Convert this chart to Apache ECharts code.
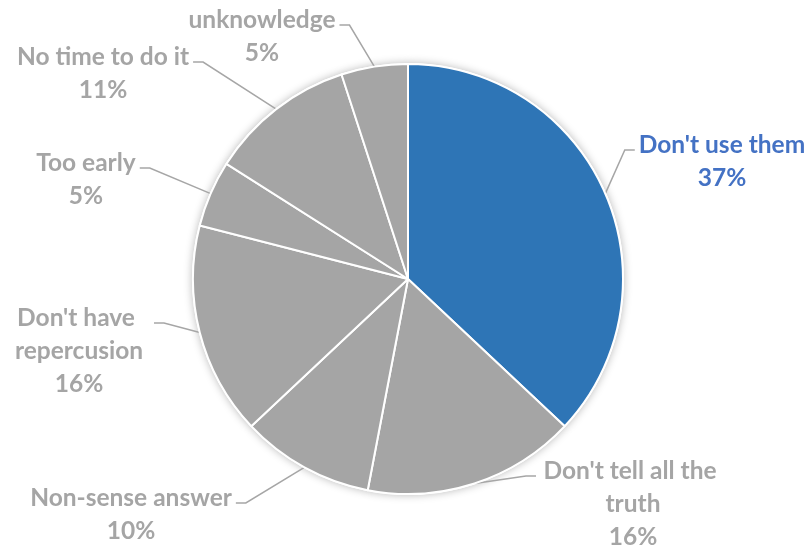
<!DOCTYPE html>
<html>
<head>
<meta charset="utf-8">
<style>
  html, body { margin: 0; padding: 0; background: #ffffff; }
  #chart { width: 808px; height: 549px; }
</style>
<script src="https://cdn.jsdelivr.net/npm/echarts@6/dist/echarts.min.js"></script>
</head>
<body>
<div id="chart"></div>
<script>
// Reasons given, clockwise from 12 o'clock
const categories = [
  "Don't use them",
  "Don't tell all the truth",
  "Non-sense answer",
  "Don't have repercusion",
  "Too early",
  "No time to do it",
  "unknowledge"
];
const shares = [37, 16, 10, 16, 5, 11, 5];

// Label placement: [centre x, top y, side of the pie]
const labelSpots = [
  [722, 129, 'right'],
  [633, 455, 'right'],
  [131, 482, 'left'],
  [79, 302, 'left'],
  [86, 147, 'left'],
  [103, 41, 'left'],
  [262, 4, 'left']
];
// Wrap widths for the longer names (0 = no wrap)
const wrapWidths = [0, 186, 0, 142, 0, 0, 0];

const GREY = '#a5a5a5';
const BLUE = '#2e75b6';
const LABEL_GREY = '#a5a5a5';
const LABEL_BLUE = '#4472c4';
const CENTER = [408, 279];
const RADIUS = 215;

const pieData = categories.map(function (name, i) {
  const highlight = i === 0;
  const label = {
    color: highlight ? LABEL_BLUE : LABEL_GREY
  };
  if (wrapWidths[i]) {
    label.width = wrapWidths[i];
    label.overflow = 'break';
  }
  return {
    name: name,
    value: shares[i],
    itemStyle: { color: highlight ? BLUE : GREY },
    label: label
  };
});

const chart = echarts.init(document.getElementById('chart'), null, { renderer: 'canvas' });

chart.setOption({
  animation: false,
  backgroundColor: '#ffffff',
  series: [
    {
      // soft drop shadow behind the disc
      type: 'pie',
      silent: true,
      z: 1,
      center: CENTER,
      radius: RADIUS + 1,
      startAngle: 90,
      label: { show: false },
      labelLine: { show: false },
      itemStyle: {
        color: '#ffffff',
        shadowBlur: 9,
        shadowColor: 'rgba(0,0,0,0.28)'
      },
      data: shares.map(function (v, i) { return { name: categories[i], value: v }; })
    },
    {
      type: 'pie',
      z: 2,
      center: CENTER,
      radius: RADIUS,
      startAngle: 90,
      clockwise: true,
      avoidLabelOverlap: false,
      itemStyle: {
        borderColor: '#ffffff',
        borderWidth: 2
      },
      label: {
        show: true,
        position: 'outside',
        fontFamily: 'Lato',
        fontWeight: 'bold',
        fontSize: 24.5,
        lineHeight: 33,
        align: 'center',
        formatter: function (p) {
          return p.name + '\n' + p.value + '%';
        }
      },
      labelLine: {
        show: true,
        length: 20,
        length2: 10,
        lineStyle: { color: '#a6a6a6', width: 1.5 }
      },
      labelLayout: function (params) {
        const spot = labelSpots[params.dataIndex];
        const w = params.labelRect.width;
        const left = spot[0] - w / 2;
        const attachY = spot[1] + 21;
        const onRight = spot[2] === 'right';
        const endX = onRight ? left - 4 : left + w + 4;
        const elbowX = onRight ? endX - 10 : endX + 10;
        const start = params.labelLinePoints && params.labelLinePoints[0];
        const out = {
          x: spot[0],
          y: spot[1],
          align: 'center',
          verticalAlign: 'top'
        };
        if (start) {
          out.labelLinePoints = [start.slice(), [elbowX, attachY], [endX, attachY]];
        }
        return out;
      },
      data: pieData
    }
  ]
});
</script>
</body>
</html>
